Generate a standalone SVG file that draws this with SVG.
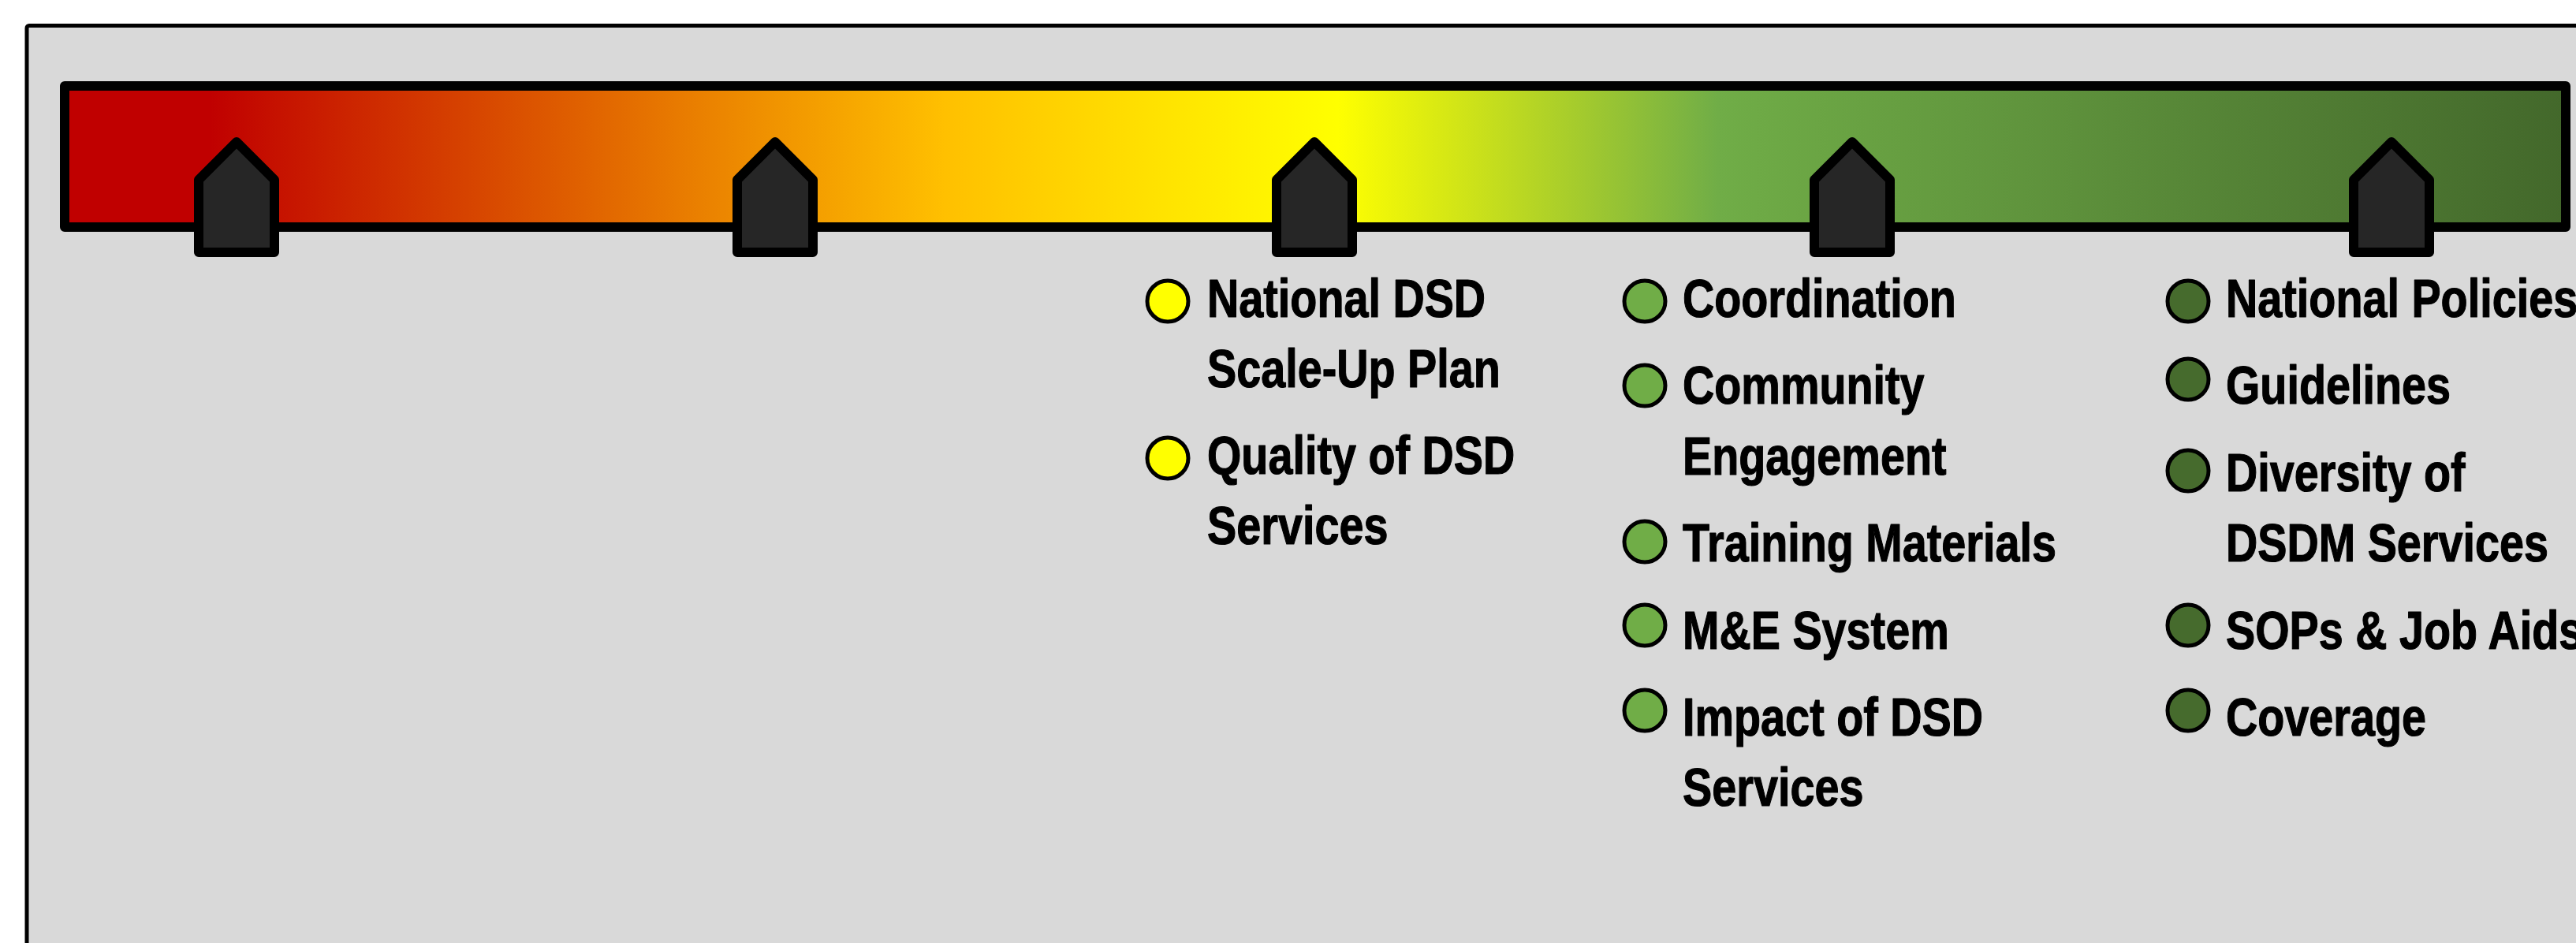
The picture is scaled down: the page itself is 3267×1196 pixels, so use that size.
<svg xmlns="http://www.w3.org/2000/svg" width="3267" height="1196" viewBox="0 0 3267 1196">
<defs>
<linearGradient id="scale" x1="0" y1="0" x2="1" y2="0">
<stop offset="0.058" stop-color="#C00000"/>
<stop offset="0.352" stop-color="#FFC000"/>
<stop offset="0.509" stop-color="#FFFF00"/>
<stop offset="0.661" stop-color="#70AD47"/>
<stop offset="1" stop-color="#43682B"/>
</linearGradient>
<path id="marker" d="M0,180 L48,228 L48,320 L-48,320 L-48,228 Z"/>
<style>
.frame{fill:#D9D9D9;stroke:#000;stroke-width:5}
.bar{fill:url(#scale);stroke:#000;stroke-width:12;stroke-linejoin:round}
.mk{fill:#262626;stroke:#000;stroke-width:12;stroke-linejoin:round}
.dot{stroke:#000;stroke-width:5}
.y{fill:#FFFF00}
.g{fill:#70AD47}
.d{fill:#466B2D}
.t{font-family:"Liberation Sans",Arial,sans-serif;font-weight:bold;font-size:68px;fill:#000;stroke:#000;stroke-width:1.2;stroke-linejoin:round}
</style>
</defs>
<rect width="3267" height="1196" fill="#FFFFFF"/>
<rect class="frame" x="34" y="32.5" width="3400" height="1300" rx="3"/>
<g id="bar">
<rect class="bar" x="82" y="109" width="3172" height="179"/>
</g>
<g id="markers">
<g id="marker1"><use href="#marker" class="mk" x="300"/></g>
<g id="marker2"><use href="#marker" class="mk" x="983"/></g>
<g id="marker3"><use href="#marker" class="mk" x="1667"/></g>
<g id="marker4"><use href="#marker" class="mk" x="2349"/></g>
<g id="marker5"><use href="#marker" class="mk" x="3033"/></g>
</g>
<g id="connectors"></g>
<g id="col-yellow">
<g id="item-national-dsd">
<circle class="dot y" cx="1481" cy="382" r="26"/>
<text class="t" transform="translate(1531 0) scale(0.82 1)"><tspan x="0" y="402">National DSD</tspan><tspan x="0" y="491">Scale-Up Plan</tspan></text>
</g>
<g id="item-quality">
<circle class="dot y" cx="1481" cy="581" r="26"/>
<text class="t" transform="translate(1531 0) scale(0.82 1)"><tspan x="0" y="601">Quality of DSD</tspan><tspan x="0" y="690">Services</tspan></text>
</g>
</g>
<g id="col-green">
<g id="item-coordination">
<circle class="dot g" cx="2086" cy="382" r="26"/>
<text class="t" transform="translate(2134 0) scale(0.82 1)"><tspan x="0" y="402">Coordination</tspan></text>
</g>
<g id="item-community">
<circle class="dot g" cx="2086" cy="489" r="26"/>
<text class="t" transform="translate(2134 0) scale(0.82 1)"><tspan x="0" y="512">Community</tspan><tspan x="0" y="602">Engagement</tspan></text>
</g>
<g id="item-training">
<circle class="dot g" cx="2086" cy="687" r="26"/>
<text class="t" transform="translate(2134 0) scale(0.82 1)"><tspan x="0" y="712">Training Materials</tspan></text>
</g>
<g id="item-me">
<circle class="dot g" cx="2086" cy="793" r="26"/>
<text class="t" transform="translate(2134 0) scale(0.82 1)"><tspan x="0" y="823">M&amp;E System</tspan></text>
</g>
<g id="item-impact">
<circle class="dot g" cx="2086" cy="901" r="26"/>
<text class="t" transform="translate(2134 0) scale(0.82 1)"><tspan x="0" y="933">Impact of DSD</tspan><tspan x="0" y="1022">Services</tspan></text>
</g>
</g>
<g id="col-darkgreen">
<g id="item-policies">
<circle class="dot d" cx="2775" cy="382" r="26"/>
<text class="t" transform="translate(2823 0) scale(0.82 1)"><tspan x="0" y="402">National Policies</tspan></text>
</g>
<g id="item-guidelines">
<circle class="dot d" cx="2775" cy="481" r="26"/>
<text class="t" transform="translate(2823 0) scale(0.82 1)"><tspan x="0" y="512">Guidelines</tspan></text>
</g>
<g id="item-diversity">
<circle class="dot d" cx="2775" cy="597" r="26"/>
<text class="t" transform="translate(2823 0) scale(0.82 1)"><tspan x="0" y="623">Diversity of</tspan><tspan x="0" y="712">DSDM Services</tspan></text>
</g>
<g id="item-sops">
<circle class="dot d" cx="2775" cy="793" r="26"/>
<text class="t" transform="translate(2823 0) scale(0.82 1)"><tspan x="0" y="823">SOPs &amp; Job Aids</tspan></text>
</g>
<g id="item-coverage">
<circle class="dot d" cx="2775" cy="901" r="26"/>
<text class="t" transform="translate(2823 0) scale(0.82 1)"><tspan x="0" y="933">Coverage</tspan></text>
</g>
</g>
</svg>
